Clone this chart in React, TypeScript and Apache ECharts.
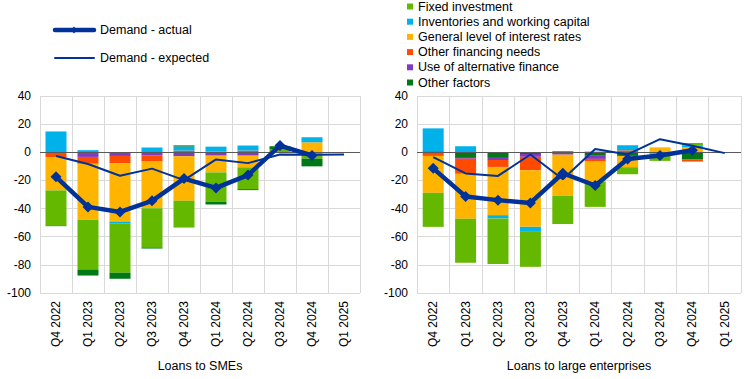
import React, { useEffect, useRef } from "react";
import * as echarts from "echarts";

const categories = ["Q4 2022", "Q1 2023", "Q2 2023", "Q3 2023", "Q4 2023", "Q1 2024", "Q2 2024", "Q3 2024", "Q4 2024", "Q1 2025"];

// Loans to SMEs
const smeFixed = [-24.9, -35.7, -35.1, -27.8, -19.1, -20.9, -15.5, 2.0, -3.8, null];
const smeInventories = [14.8, 1.5, -1.2, 3.4, 2.9, 3.5, 3.6, 0, 3.6, null];
const smeInterest = [-23.7, -39.7, -41.5, -33.2, -31.5, -11.9, -8.3, 0, 7.1, null];
const smeOtherFinancing = [-3.4, -4.9, -5.2, -4.2, 1.2, 0.5, 1.2, -0.5, -0.7, null];
const smeAltFinance = [0, -3.3, -2.6, -2.4, -2.9, -2.4, -2.4, 0, 0, null];
const smeOtherFactors = [-0.5, -4.0, -4.3, -0.8, 0.8, -1.9, -0.7, 2.3, -5.5, null];
const smeActual = [-17.4, -38.8, -42.4, -34.5, -18.7, -25.3, -16.2, 4.8, -2.3, null];
const smeExpected = [-2.7, -8.3, -16.7, -11.6, -19.8, -5.1, -7.7, -1.6, -1.8, -1.5];

// Loans to large enterprises
const largeFixed = [-24.2, -31.3, -32.4, -25.4, -20.0, -17.8, -5.0, -3.9, 1.6, null];
const largeInventories = [16.2, 4.3, -2.3, -3.0, 0.9, 0.5, 3.6, -1.2, 1.5, null];
const largeInterest = [-26.2, -31.9, -34.3, -40.2, -29.3, -14.4, -8.0, 3.5, 3.5, null];
const largeOtherFinancing = [-2.6, -10.7, -4.9, -9.6, 0, -1.9, 1.4, -1.0, -1.4, null];
const largeAltFinance = [0.8, -0.6, -1.5, -2.0, -1.7, -2.2, 0, 0, 0, null];
const largeOtherFactors = [0, -4.0, -4.0, -1.2, 0, -2.5, -2.6, 0, -5.2, null];
const largeActual = [-11.4, -31.4, -34.0, -36.0, -14.9, -23.6, -4.8, -2.3, 1.5, null];
const largeExpected = [-3.5, -15.0, -16.8, -1.6, -19.2, 2.3, -1.5, 9.3, 4.7, -0.6];

const panelNames = ["Loans to SMEs", "Loans to large enterprises"];
const yTicks = { min: -100, max: 40, interval: 20 };

const NAMES = {
  fixed: "Fixed investment",
  inv: "Inventories and working capital",
  rate: "General level of interest rates",
  fin: "Other financing needs",
  alt: "Use of alternative finance",
  other: "Other factors",
  actual: "Demand - actual",
  expected: "Demand - expected",
};

const COLORS: Record<string, string> = {
  [NAMES.fixed]: "#65b800",
  [NAMES.inv]: "#00b1ea",
  [NAMES.rate]: "#ffb400",
  [NAMES.fin]: "#ff4b00",
  [NAMES.alt]: "#8139c6",
  [NAMES.other]: "#007816",
};

const FONT = "'Liberation Sans', Arial, sans-serif";
const BLUE = "#003299";

function barSeries(name: string, data: (number | null)[], idx: number, stack: string, withZero = false) {
  const s: any = {
    name,
    type: "bar",
    stack,
    xAxisIndex: idx,
    yAxisIndex: idx,
    data,
    barWidth: 21,
    itemStyle: { color: COLORS[name] },
    emphasis: { disabled: true },
  };
  if (withZero) {
    s.markLine = {
      silent: true,
      symbol: "none",
      label: { show: false },
      z: 5,
      lineStyle: { color: "#595959", type: "solid", width: 1 },
      data: [{ yAxis: 0 }],
    };
  }
  return s;
}

function lineSeries(idx: number, actual: (number | null)[], expected: (number | null)[]) {
  return [
    {
      name: NAMES.expected,
      type: "line",
      xAxisIndex: idx,
      yAxisIndex: idx,
      data: expected,
      symbol: "none",
      lineStyle: { color: BLUE, width: 2 },
      itemStyle: { color: BLUE },
      emphasis: { disabled: true },
      z: 6,
    },
    {
      name: NAMES.actual,
      type: "line",
      xAxisIndex: idx,
      yAxisIndex: idx,
      data: actual,
      symbol: "diamond",
      symbolSize: 11,
      lineStyle: { color: BLUE, width: 4.5 },
      itemStyle: { color: BLUE },
      emphasis: { disabled: true },
      z: 7,
    },
  ];
}

export default function App() {
  const ref = useRef<HTMLDivElement>(null);
  useEffect(() => {
    if (!ref.current) return;
    document.body.style.margin = "0";
    const chart = echarts.init(ref.current, undefined, { renderer: "svg" });
    const grids = [
      { left: 40, right: 385, top: 96, bottom: 86 },
      { left: 417, right: 4, top: 96, bottom: 86 },
    ];
    const xAxes = grids.map((_, i) => ({
      type: "category",
      gridIndex: i,
      data: categories,
      name: panelNames[i],
      nameLocation: "middle",
      nameGap: 66,
      nameTextStyle: { color: "#000", fontSize: 12.5, fontFamily: FONT },
      axisLine: { show: false, onZero: false },
      axisTick: { show: false },
      axisLabel: { rotate: 90, interval: 0, margin: 8, color: "#000", fontSize: 12, fontFamily: FONT },
      splitLine: { show: true, interval: 0, lineStyle: { color: "#d9d9d9", width: 1 } },
    }));
    const yAxes = grids.map((_, i) => ({
      type: "value",
      gridIndex: i,
      ...yTicks,
      axisLine: { show: false },
      axisTick: { show: false },
      axisLabel: { color: "#000", fontSize: 12, fontFamily: FONT, margin: 9 },
      splitLine: { show: true, lineStyle: { color: "#d9d9d9", width: 1 } },
    }));
    const series: any[] = [
      barSeries(NAMES.alt, smeAltFinance, 0, "L", true),
      barSeries(NAMES.fin, smeOtherFinancing, 0, "L"),
      barSeries(NAMES.rate, smeInterest, 0, "L"),
      barSeries(NAMES.inv, smeInventories, 0, "L"),
      barSeries(NAMES.fixed, smeFixed, 0, "L"),
      barSeries(NAMES.other, smeOtherFactors, 0, "L"),
      ...lineSeries(0, smeActual, smeExpected),
      barSeries(NAMES.other, largeOtherFactors, 1, "R", true),
      barSeries(NAMES.alt, largeAltFinance, 1, "R"),
      barSeries(NAMES.fin, largeOtherFinancing, 1, "R"),
      barSeries(NAMES.rate, largeInterest, 1, "R"),
      barSeries(NAMES.inv, largeInventories, 1, "R"),
      barSeries(NAMES.fixed, largeFixed, 1, "R"),
      ...lineSeries(1, largeActual, largeExpected),
    ];
    const lineLegend = [
      { name: NAMES.actual, y: 30, width: 4.5, marker: true },
      { name: NAMES.expected, y: 58, width: 2, marker: false },
    ];
    const graphic: any[] = [];
    lineLegend.forEach((it) => {
      graphic.push({
        type: "line",
        shape: { x1: 55, y1: it.y, x2: 94, y2: it.y },
        style: { stroke: BLUE, lineWidth: it.width, lineCap: "round" },
        silent: true,
      });
      if (it.marker) {
        graphic.push({
          type: "polygon",
          shape: { points: [[74, it.y - 3.5], [77, it.y], [74, it.y + 3.5], [71, it.y]] },
          style: { fill: BLUE },
          silent: true,
        });
      }
      graphic.push({
        type: "text",
        x: 100,
        y: it.y,
        style: { text: it.name, fill: "#000", font: `12.5px ${FONT}`, textVerticalAlign: "middle", verticalAlign: "middle" },
        silent: true,
      });
    });
    chart.setOption({
      animation: false,
      textStyle: { fontFamily: FONT },
      grid: grids,
      xAxis: xAxes,
      yAxis: yAxes,
      graphic,
      legend: [
        {
          data: [NAMES.fixed, NAMES.inv, NAMES.rate, NAMES.fin, NAMES.alt, NAMES.other],
          orient: "vertical",
          left: 407,
          top: 0,
          padding: 0,
          icon: "rect",
          itemWidth: 6,
          itemHeight: 6,
          itemGap: 2.2,
          selectedMode: false,
          textStyle: { color: "#000", fontSize: 12.5, fontFamily: FONT },
        },
      ],
      series,
    });
    return () => chart.dispose();
  }, []);
  return <div ref={ref} style={{ width: 745, height: 379 }} />;
}
